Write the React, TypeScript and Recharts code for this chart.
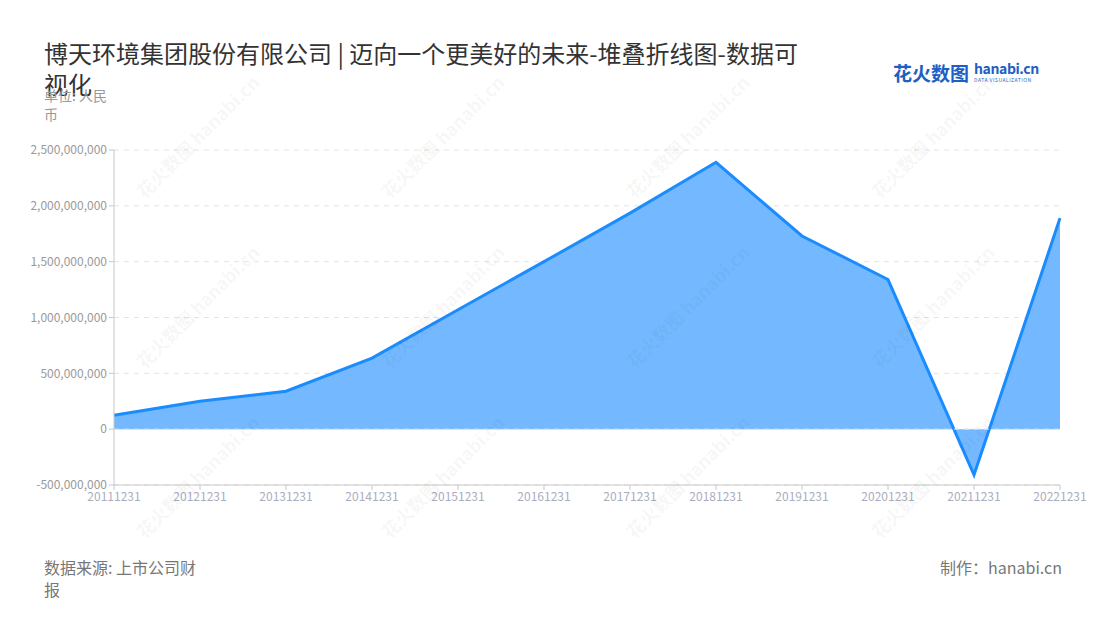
import { AreaChart, Area, XAxis, YAxis, CartesianGrid, ReferenceLine } from "recharts"

const years = [
    "20111231", "20121231", "20131231", "20141231", "20151231", "20161231",
    "20171231", "20181231", "20191231", "20201231", "20211231", "20221231",
]
const profit = [
    125000000, 250000000, 340000000, 636000000, 1070000000, 1500000000,
    1935000000, 2390000000, 1730000000, 1340000000, -410000000, 1890000000,
]
const yTicks = [-500000000, 0, 500000000, 1000000000, 1500000000, 2000000000, 2500000000]

const data = years.map((y, i) => ({ year: y, value: profit[i] }))

const FONT = '"Noto Sans CJK SC", "Noto Sans", sans-serif'

// faint diagonal watermark, repeated over the chart
function Watermark({ x, y }: { x: number; y: number }) {
    return (
        <div
            style={{
                position: "absolute",
                left: x,
                top: y,
                transform: "rotate(-45deg)",
                transformOrigin: "left top",
                color: "rgba(0,0,0,0.05)",
                fontWeight: 700,
                fontSize: 18,
                whiteSpace: "nowrap",
                pointerEvents: "none",
            }}
        >
            花火数图 hanabi.cn
        </div>
    )
}

const marks: [number, number][] = []
for (const x of [130, 375, 620, 865]) {
    for (const y of [185, 355, 525]) marks.push([x, y])
}

export default function App() {
    return (
        <div
            style={{
                position: "absolute",
                left: 0,
                top: 0,
                width: 1100,
                height: 620,
                background: "#fff",
                fontFamily: FONT,
                overflow: "hidden",
            }}
        >
            <div style={{ position: "absolute", left: 44, top: 37, fontSize: 24, lineHeight: "31px", color: "#333" }}>
                <div>博天环境集团股份有限公司 | 迈向一个更美好的未来-堆叠折线图-数据可</div>
                <div>视化</div>
            </div>

            <div style={{ position: "absolute", left: 44, top: 86, fontSize: 14, lineHeight: "19px", color: "#999" }}>
                <div>单位: 人民</div>
                <div>币</div>
            </div>

            {/* logo */}
            <div style={{ position: "absolute", left: 893, top: 60, display: "flex", alignItems: "flex-start", color: "#1d5fc4" }}>
                <span style={{ fontSize: 19, fontWeight: 700, lineHeight: "26px" }}>花火数图</span>
                <div style={{ marginLeft: 5, display: "flex", flexDirection: "column" }}>
                    <span style={{ fontSize: 14, fontWeight: 700, lineHeight: "17px", letterSpacing: -0.4 }}>hanabi.cn</span>
                    <span style={{ fontSize: 5, lineHeight: "6px", letterSpacing: 0.5 }}>DATA VISUALIZATION</span>
                </div>
            </div>

            <div style={{ position: "absolute", left: 0, top: 0 }}>
                <AreaChart width={1100} height={620} data={data} margin={{ top: 150, right: 40, bottom: 105, left: 14 }}>
                    <CartesianGrid vertical={false} stroke="#e3e3e3" strokeDasharray="5 5" />
                    <XAxis
                        dataKey="year"
                        interval={0}
                        height={30}
                        stroke="#c8c8c8"
                        tickLine={{ stroke: "#c8c8c8" }}
                        tick={{ fill: "#a9adbe", fontSize: 12 }}
                        tickSize={5}
                    />
                    <YAxis
                        type="number"
                        domain={[-500000000, 2500000000]}
                        ticks={yTicks}
                        width={100}
                        stroke="#c8c8c8"
                        tickLine={{ stroke: "#c8c8c8" }}
                        tickSize={5}
                        tick={{ fill: "#999", fontSize: 12 }}
                        tickFormatter={(v: number) => v.toLocaleString("en-US")}
                    />
                    <Area
                        type="linear"
                        dataKey="value"
                        stroke="#1a8cff"
                        strokeWidth={3}
                        fill="#74b9ff"
                        fillOpacity={1}
                        isAnimationActive={false}
                        dot={false}
                        activeDot={false}
                    />
                    <ReferenceLine y={0} stroke="#dce6f2" strokeDasharray="5 5" />
                </AreaChart>
            </div>

            <div style={{ position: "absolute", left: 44, top: 556, fontSize: 16, lineHeight: "22px", color: "#777" }}>
                <div>数据来源: 上市公司财</div>
                <div>报</div>
            </div>
            <div style={{ position: "absolute", right: 38, top: 556, fontSize: 16, lineHeight: "22px", color: "#777" }}>
                制作：hanabi.cn
            </div>

            {marks.map(([x, y], i) => (
                <Watermark key={i} x={x} y={y} />
            ))}
        </div>
    )
}
